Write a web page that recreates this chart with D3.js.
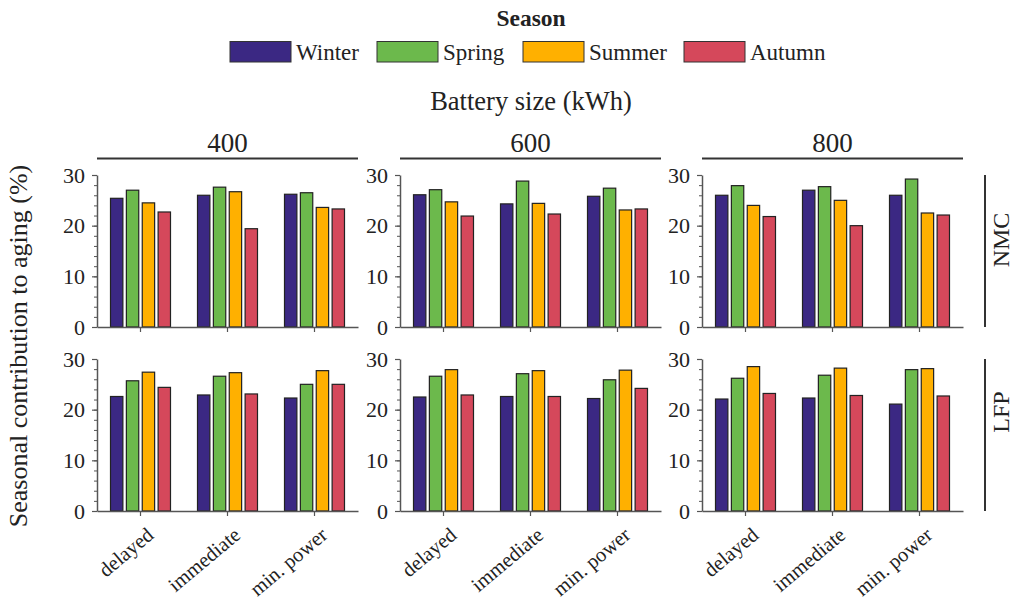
<!DOCTYPE html>
<html>
<head>
<meta charset="utf-8">
<script src="https://d3js.org/d3.v7.min.js"></script>
<style>
  html, body { margin: 0; padding: 0; background: #fff; }
  svg { display: block; font-family: "Liberation Serif", "Times New Roman", serif; }
</style>
</head>
<body>
<svg id="chart" width="1015" height="607"></svg>
<script>
// Charging strategies along the x axis of each panel
const strategies = ["delayed", "immediate", "min. power"];
// Seasons (legend order) and their fills
const seasons = ["Winter", "Spring", "Summer", "Autumn"];
const seasonColors = ["#3b2883", "#6cb94c", "#ffb000", "#d5485b"];
// Battery sizes (columns) and chemistries (rows)
const batterySizes = ["400", "600", "800"];
const chemistries = ["NMC", "LFP"];
const yTicks = [0, 10, 20, 30];

// Seasonal contribution to aging (%), per strategy: [Winter, Spring, Summer, Autumn]
const nmc400 = [[25.4, 27.0, 24.5, 22.7], [26.0, 27.6, 26.7, 19.4], [26.2, 26.5, 23.6, 23.3]];
const nmc600 = [[26.1, 27.1, 24.7, 21.9], [24.3, 28.8, 24.4, 22.3], [25.8, 27.4, 23.1, 23.3]];
const nmc800 = [[26.0, 27.9, 24.0, 21.8], [27.0, 27.7, 25.0, 20.0], [26.0, 29.2, 22.5, 22.1]];
const lfp400 = [[22.6, 25.7, 27.4, 24.4], [22.9, 26.6, 27.3, 23.1], [22.3, 25.0, 27.7, 25.0]];
const lfp600 = [[22.5, 26.6, 27.9, 22.9], [22.6, 27.1, 27.7, 22.6], [22.2, 25.9, 27.8, 24.2]];
const lfp800 = [[22.1, 26.2, 28.5, 23.2], [22.3, 26.8, 28.2, 22.8], [21.1, 27.9, 28.1, 22.7]];

const panelData = {
  NMC: [nmc400, nmc600, nmc800],
  LFP: [lfp400, lfp600, lfp800]
};

const svg = d3.select("#chart");
const serif = "'Liberation Serif', 'Times New Roman', serif";
const textColor = "#222";
const axisColor = "#555";

// Panel geometry
const colX = [97, 400, 702];
const panelW = 261;
const rowTop = [175, 359];
const panelH = 152;

const color = d3.scaleOrdinal().domain(seasons).range(seasonColors);
const x = d3.scaleBand().domain(strategies).range([0, panelW]).padding(0);
const xs = d3.scaleBand().domain(seasons).range([-30, 30]).paddingInner(0.22).paddingOuter(0);
const y = d3.scaleLinear().domain([0, 30]).range([panelH, 0]);

// Legend
svg.append("text")
  .attr("x", 531).attr("y", 26)
  .attr("text-anchor", "middle")
  .attr("font-family", serif)
  .attr("font-size", 23.5).attr("font-weight", "bold")
  .attr("fill", textColor)
  .text("Season");

const legendBoxX = [230, 377, 523, 684];
const legend = svg.append("g");
seasons.forEach((s, i) => {
  legend.append("rect")
    .attr("x", legendBoxX[i]).attr("y", 41.5)
    .attr("width", 61).attr("height", 20.5)
    .attr("fill", color(s))
    .attr("stroke", "#333").attr("stroke-width", 1);
  legend.append("text")
    .attr("x", legendBoxX[i] + 66).attr("y", 59.5)
    .attr("font-family", serif)
    .attr("font-size", 23)
    .attr("fill", textColor)
    .text(s);
});

// Column header
svg.append("text")
  .attr("x", 531).attr("y", 110)
  .attr("text-anchor", "middle")
  .attr("font-family", serif)
  .attr("font-size", 26.5)
  .attr("fill", textColor)
  .text("Battery size (kWh)");

batterySizes.forEach((b, j) => {
  svg.append("text")
    .attr("x", colX[j] + panelW / 2).attr("y", 152)
    .attr("text-anchor", "middle")
    .attr("font-family", serif)
    .attr("font-size", 27)
    .attr("fill", textColor)
    .text(b);
  svg.append("line")
    .attr("x1", colX[j]).attr("x2", colX[j] + panelW)
    .attr("y1", 158.5).attr("y2", 158.5)
    .attr("stroke", "#333").attr("stroke-width", 2);
});

// Row strips on the right
const rowLabelY = [240, 412];
chemistries.forEach((c, i) => {
  svg.append("line")
    .attr("x1", 985).attr("x2", 985)
    .attr("y1", rowTop[i]).attr("y2", rowTop[i] + panelH)
    .attr("stroke", "#333").attr("stroke-width", 2);
  svg.append("text")
    .attr("transform", `translate(1009,${rowLabelY[i]}) rotate(-90)`)
    .attr("text-anchor", "middle")
    .attr("font-family", serif)
    .attr("font-size", 24)
    .attr("fill", textColor)
    .text(c);
});

// Y axis title
svg.append("text")
  .attr("transform", "translate(27,346) rotate(-90)")
  .attr("text-anchor", "middle")
  .attr("font-family", serif)
  .attr("font-size", 26)
  .attr("fill", textColor)
  .text("Seasonal contribution to aging (%)");

// Panels
chemistries.forEach((c, i) => {
  batterySizes.forEach((b, j) => {
    const g = svg.append("g")
      .attr("transform", `translate(${colX[j]},${rowTop[i]})`);
    const data = panelData[c][j];

    // Bars
    strategies.forEach((st, k) => {
      const cx = x(st) + x.bandwidth() / 2;
      g.selectAll(null)
        .data(seasons.map((s, m) => ({ season: s, value: data[k][m] })))
        .join("rect")
        .attr("x", d => cx + xs(d.season))
        .attr("y", d => y(d.value))
        .attr("width", xs.bandwidth())
        .attr("height", d => y(0) - y(d.value))
        .attr("fill", d => color(d.season))
        .attr("stroke", "#222")
        .attr("stroke-width", 1.2);
    });

    // Y axis with minor ticks
    const yMinor = g.append("g")
      .call(d3.axisLeft(y).tickValues(d3.range(0, 31, 2)).tickSize(3).tickFormat(""));
    yMinor.select(".domain").remove();
    yMinor.selectAll("line").attr("stroke", axisColor).attr("stroke-width", 1);

    const yAxis = g.append("g")
      .call(d3.axisLeft(y).tickValues(yTicks).tickSize(5).tickSizeOuter(0).tickPadding(7));
    yAxis.attr("font-family", serif);
    yAxis.select(".domain").attr("stroke", axisColor).attr("stroke-width", 1.5);
    yAxis.selectAll(".tick line").attr("stroke", axisColor).attr("stroke-width", 1.2);
    yAxis.selectAll(".tick text")
      .attr("font-size", 22)
      .attr("fill", textColor);

    // X axis
    const xAxis = g.append("g")
      .attr("transform", `translate(0,${panelH})`)
      .call(d3.axisBottom(x).tickSize(5).tickSizeOuter(0));
    xAxis.attr("font-family", serif);
    xAxis.select(".domain").attr("stroke", axisColor).attr("stroke-width", 1.5);
    xAxis.selectAll(".tick line").attr("stroke", axisColor).attr("stroke-width", 1.2);
    if (i === 1) {
      xAxis.selectAll(".tick text")
        .attr("font-size", 20.5)
        .attr("fill", textColor)
        .attr("text-anchor", "end")
        .attr("dy", null)
        .attr("y", 0)
        .attr("transform", "translate(5,15) rotate(-40)")
        .attr("dominant-baseline", "hanging");
    } else {
      xAxis.selectAll(".tick text").remove();
    }
  });
});
</script>
</body>
</html>
